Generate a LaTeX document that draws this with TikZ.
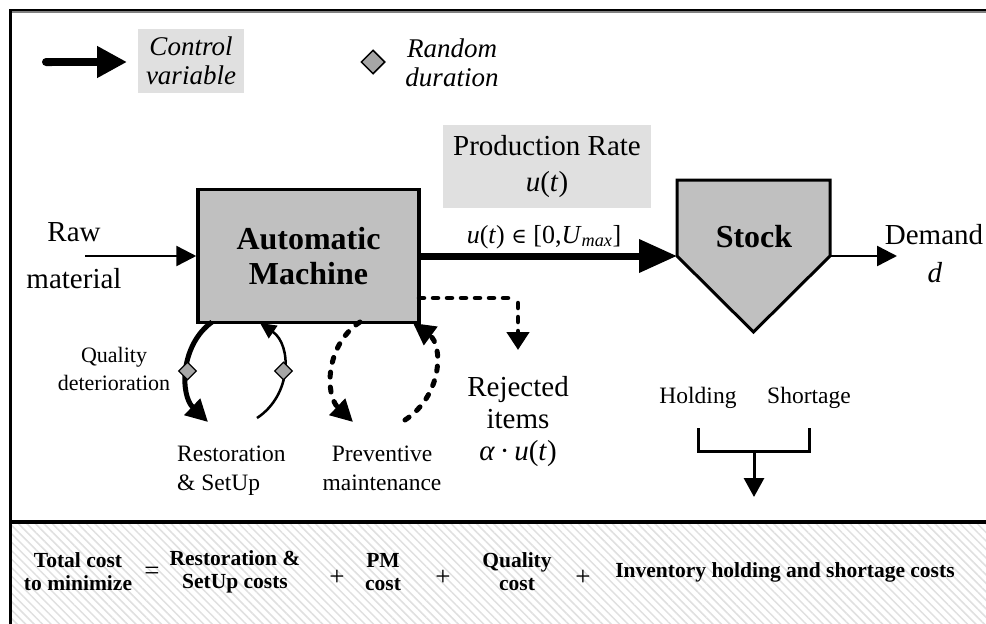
\documentclass[tikz,border=0pt]{standalone}
\usepackage{fontspec}
\setmainfont{Liberation Serif}
\newfontfamily\dvs{DejaVu Serif}
\usetikzlibrary{arrows.meta,shapes.geometric,patterns.meta}
\definecolor{boxgray}{RGB}{192,192,192}
\definecolor{lightbox}{RGB}{224,224,224}
\definecolor{diagray}{RGB}{166,166,166}
\definecolor{hatch}{RGB}{224,224,224}
\newcommand{\myut}{\textit{u}(\textit{t})}
\begin{document}
\begin{tikzpicture}[x=1pt,y=-1pt,
  big/.style={inner sep=0pt, align=center, font=\fontsize{29}{34}\selectfont},
  midtxt/.style={inner sep=0pt, align=center, font=\fontsize{23.5}{29}\selectfont},
  smalltxt/.style={inner sep=0pt, align=center, font=\fontsize{22}{28}\selectfont},
  legtxt/.style={inner sep=0pt, align=center, font=\fontsize{27}{29}\selectfont\itshape},
  costtxt/.style={inner sep=0pt, align=center, font=\fontsize{21.5}{23}\selectfont\bfseries},
  optxt/.style={inner sep=0pt, font=\fontsize{27}{30}\selectfont},
  diam/.style={diamond, draw=black, line width=1.3pt, fill=diagray, inner sep=0pt, minimum width=18pt, minimum height=18pt, aspect=1},
  thinarrow/.style={line width=2.5pt, -{Triangle[length=20pt,width=20pt]}},
  fatarrow/.style={line width=7pt, -{Triangle[length=38pt,width=32pt]}},
  loopthick/.style={line width=5pt, -{Triangle[length=22pt,width=22pt]}},
  loopthin/.style={line width=2.5pt, -{Triangle[length=16pt,width=15pt]}},
  loopdash/.style={line width=5pt, dash pattern=on 5pt off 10pt, line cap=round, -{Triangle[length=22pt,width=22pt]}},
]
\useasboundingbox (0,0) rectangle (986,624);
\fill[white] (0,0) rectangle (986,624);

% bottom hatched area
\fill[pattern={Lines[angle=-45,distance=6pt,line width=1.5pt]}, pattern color=hatch] (10,522) rectangle (986,624);

% frame
\draw[line width=3pt] (10,624) -- (10,10) -- (986,10);
\draw[gray, line width=1.2pt] (12,12) -- (986,12);
\draw[line width=3.5pt] (10,522) -- (986,522);

% legend
\coordinate (legA) at (42,62);
\coordinate (legB) at (127,62);
\draw[line width=8pt, {Round Cap[]}-{Triangle[length=30pt,width=30pt]}] (legA) -- (legB);
\node[legtxt, fill=lightbox, minimum width=106pt, minimum height=64pt] (ctrl) at (191,61) {Control\\variable};
\node[diamond, draw=black, line width=1.5pt, fill=diagray, inner sep=0pt, minimum width=24pt, minimum height=24pt, aspect=1] (legdiam) at (373,62) {};
\node[legtxt] (rand) at (452,63) {Random\\duration};

% production rate
\node[big, font=\fontsize{29}{36}\selectfont, fill=lightbox, minimum width=208pt, minimum height=83pt] (prate) at (547,166.5) {Production Rate\\\myut};
\node[inner sep=0pt, font=\fontsize{26}{30}\selectfont] (urange) at (544,237) {\myut\ {\dvs\fontsize{21}{24}\selectfont ∈} [0,\textit{U}\textsubscript{\textit{max}}]};

% machine
\node[draw, line width=3.5pt, fill=boxgray, minimum width=221pt, minimum height=133pt, inner sep=0pt,
      align=center, font=\fontsize{32}{35}\selectfont\bfseries] (machine) at (308.5,256) {Automatic\\Machine};

% stock
\coordinate (stockin) at (677,256);
\coordinate (stockout) at (830,256);
\draw[line width=3pt, fill=boxgray, line join=miter] (677,180) -- (830,180) -- (stockout) -- (753.5,332) -- (stockin) -- cycle;
\node[inner sep=0pt, font=\fontsize{32}{35}\selectfont\bfseries] (stock) at (754,237) {Stock};

% raw material
\node[big] (raw) at (74,232) {Raw};
\node[big] (mat) at (74,279) {material};
\coordinate (rawstart) at (85,256);
\draw[thinarrow] (rawstart) -- (machine.west);

% main flow
\draw[fatarrow] (machine.east) -- (stockin);

% demand
\coordinate (demend) at (897,256);
\draw[thinarrow] (stockout) -- (demend);
\node[big] (demand) at (934,235) {Demand};
\node[big] (dd) at (935,273) {\textit{d}};

% rejected items
\coordinate (rejstart) at (419,298);
\coordinate (rejtip) at (518,350);
\draw[line width=4.5pt, dash pattern=on 5pt off 9pt, line cap=round] (rejstart) -- (512,298);
\draw[line width=4.5pt, dash pattern=on 5pt off 9pt, line cap=round, -{Triangle[length=18pt,width=22pt]}] (518,303) -- (rejtip);
\node[big, font=\fontsize{29}{32}\selectfont] (rej) at (518,422) {Rejected\\items\\\textit{α}\,·\,\myut};

% restoration loops
\coordinate (r1s) at (212,322);
\coordinate (r1e) at (208,422);
\coordinate (r2s) at (257,418);
\coordinate (r2e) at (260,323);
\draw[loopthick] (r1s) .. controls (180,345) and (180,395) .. (r1e);
\draw[loopthin] (r2s) .. controls (292,395) and (292,345) .. (r2e);
\node[diam] (d1) at (187.5,371) {};
\node[diam] (d2) at (283.5,371) {};
\node[smalltxt] (qual) at (114,369) {Quality\\deterioration};
\node[midtxt, align=left, anchor=west] (resto) at (177,471) {Restoration\\\& SetUp};

% preventive maintenance loops
\coordinate (p1s) at (360,322);
\coordinate (p1e) at (353,422);
\coordinate (p2s) at (405,420);
\coordinate (p2e) at (413,323);
\draw[loopdash] (p1s) .. controls (325,345) and (325,395) .. (p1e);
\draw[loopdash] (p2s) .. controls (443,395) and (443,345) .. (p2e);
\node[midtxt] (prev) at (382,468) {Preventive\\maintenance};

% holding / shortage
\node[midtxt] (hold) at (698,398) {Holding};
\node[midtxt] (short) at (809,398) {Shortage};
\coordinate (bl) at (698,428);
\coordinate (br) at (809,428);
\coordinate (bm) at (754,451);
\coordinate (btip) at (754,497);
\draw[line width=3pt] (bl) |- (bm) -| (br);
\draw[line width=3pt, -{Triangle[length=19pt,width=20pt]}] (bm) -- (btip);

% cost equation
\node[costtxt] (tot) at (78,572) {Total cost\\to minimize};
\node[optxt] (eq) at (152,573) {=};
\node[costtxt] (rsc) at (235,572) {Restoration \&\\SetUp costs};
\node[optxt] (p1) at (337,578) {+};
\node[costtxt] (pmc) at (383,572) {PM\\cost};
\node[optxt] (p2) at (443,578) {+};
\node[costtxt] (qc) at (517,572) {Quality\\cost};
\node[optxt] (p3) at (583,578) {+};
\node[costtxt] (inv) at (785,572) {Inventory holding and shortage costs};
\end{tikzpicture}
\end{document}
